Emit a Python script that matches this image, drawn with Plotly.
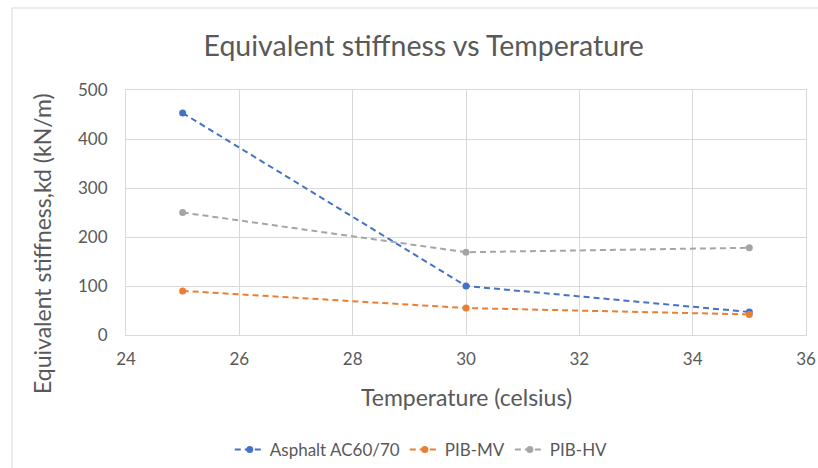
import plotly.graph_objects as go

temperature = [25, 30, 35]
asphalt_ac6070 = [453, 100, 47]
pib_mv = [90, 55, 42]
pib_hv = [250, 169, 178]

x_ticks = [24, 26, 28, 30, 32, 34, 36]
y_ticks = [0, 100, 200, 300, 400, 500]

series = [
    ("Asphalt AC60/70", asphalt_ac6070, "#4472C4"),
    ("PIB-MV", pib_mv, "#ED7D31"),
    ("PIB-HV", pib_hv, "#A5A5A5"),
]

FONT = "Lato, Open Sans, DejaVu Sans, sans-serif"
TEXT = "#595959"
GRID = "#D9D9D9"

fig = go.Figure()
for name, values, color in series:
    fig.add_trace(go.Scatter(
        x=temperature, y=values, name=name, mode="lines+markers",
        line=dict(color=color, width=2, dash="6px,4px"),
        marker=dict(color=color, size=7),
    ))

axis_common = dict(showgrid=True, gridcolor=GRID, gridwidth=1, zeroline=False,
                   showline=True, linecolor=GRID, mirror=True,
                   tickfont=dict(size=17, color=TEXT), ticks="outside",
                   tickcolor="rgba(0,0,0,0)", automargin=False)

fig.update_layout(
    width=818, height=468,
    margin=dict(l=126, r=12, t=90, b=133, autoexpand=False),
    paper_bgcolor="white", plot_bgcolor="white",
    font=dict(family=FONT, color=TEXT),
    title=dict(text="Equivalent stiffness vs Temperature", xref="container",
               x=0.518, xanchor="center", yref="container",
               y=1 - 46 / 468, yanchor="middle", font=dict(size=28.5, color=TEXT)),
    xaxis=dict(range=[24, 36], tickvals=x_ticks, ticklen=9, **axis_common),
    yaxis=dict(range=[0, 500], tickvals=y_ticks, ticklen=14, **axis_common),
    showlegend=True,
    legend=dict(orientation="h", xref="container", x=0.515, xanchor="center",
                yref="container", y=1 - 450 / 468, yanchor="middle",
                font=dict(size=17, color=TEXT), itemwidth=30),
)

fig.add_annotation(text="Temperature (celsius)", xref="paper", yref="paper",
                   x=0.5, y=(335 - 397) / 245, yanchor="middle", showarrow=False,
                   font=dict(size=23, color=TEXT))
fig.add_annotation(text="Equivalent stiffness,kd (kN/m)", xref="paper", yref="paper",
                   x=(42 - 126) / 680, xanchor="center", y=(335 - 244) / 245,
                   yanchor="middle", textangle=-90,
                   showarrow=False, font=dict(size=23, color=TEXT))

# chart frame
fig.add_shape(type="rect", xref="paper", yref="paper",
              x0=(12 - 126) / 680, x1=1.1, y0=-0.6, y1=(335 - 8) / 245,
              line=dict(color=GRID, width=1))

fig.write_html("out.html")
